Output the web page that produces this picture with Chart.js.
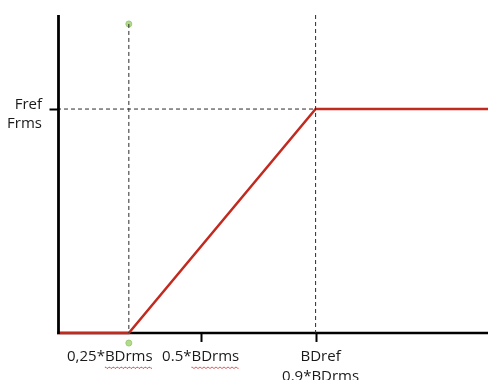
<!DOCTYPE html>
<html>
<head>
<meta charset="utf-8">
<script src="https://cdn.jsdelivr.net/npm/chart.js@4.4.1/dist/chart.umd.min.js"></script>
<style>
  html, body { margin: 0; padding: 0; background: #fff; }
  #wrap { width: 488px; height: 380px; position: relative; }
</style>
</head>
<body>
<div id="wrap"><canvas id="c"></canvas></div>
<script>
// Force characteristic: zero until the lower breakpoint, linear ramp, then flat at Fref.
const responseX = [0, 0.25, 0.9, 1.5];
const responseY = [0, 0, 1, 1];

// Reference guides
const lowGuideX = [0.25, 0.25];
const lowGuideY = [1.38, 0];
const highGuideX = [0.9, 0.9];
const highGuideY = [1.42, 0];
const levelGuideX = [0, 0.9];
const levelGuideY = [1, 1];

// Marker dots on the lower guide
const markerX = [0.25, 0.25];
const markerY = [1.38, -0.045];

// Axis ticks and their labels
const xTickValues = [0.5, 0.9];
const xLabelValues = [0.25, 0.5, 0.9];
const xLabelLines = [["0,25*BDrms"], ["0.5*BDrms"], ["BDref", "0.9*BDrms"]];
const xLabelShift = [-19, 0, 5];
const yTickValues = [1];
const yLabelLines = [["Fref", "Frms"]];

const pts = (xs, ys) => xs.map((x, i) => ({ x: x, y: ys[i] }));

const RED = '#c22a20';
const FONT = '15px "Open Sans"';

const axesPlugin = {
  id: 'schemaAxes',
  beforeDatasetsDraw(chart) {
    const { ctx, chartArea, scales } = chart;
    const xs = scales.x, ys = scales.y;
    const y0 = ys.getPixelForValue(0);
    ctx.save();
    ctx.strokeStyle = '#000';
    ctx.lineWidth = 2.5;
    ctx.beginPath();
    ctx.moveTo(xs.getPixelForValue(0), y0);
    ctx.lineTo(chartArea.right, y0);
    ctx.stroke();
    // x ticks
    ctx.lineWidth = 2;
    xTickValues.forEach(v => {
      const px = Math.round(xs.getPixelForValue(v)) + 0.5;
      ctx.beginPath();
      ctx.moveTo(px, y0);
      ctx.lineTo(px, y0 + 9);
      ctx.stroke();
    });
    ctx.restore();
  },
  afterDatasetsDraw(chart) {
    const { ctx, scales } = chart;
    const xs = scales.x, ys = scales.y;
    const x0 = xs.getPixelForValue(0) + 1.5;
    const y0 = ys.getPixelForValue(0);
    const yTop = ys.getPixelForValue(ys.max);
    ctx.save();
    ctx.strokeStyle = '#000';
    ctx.lineWidth = 2.8;
    ctx.beginPath();
    ctx.moveTo(x0, yTop);
    ctx.lineTo(x0, y0 + 1);
    ctx.stroke();
    // y ticks
    ctx.lineWidth = 2;
    yTickValues.forEach(v => {
      const py = Math.round(ys.getPixelForValue(v)) + 0.5;
      ctx.beginPath();
      ctx.moveTo(x0 - 9, py);
      ctx.lineTo(x0, py);
      ctx.stroke();
    });

    ctx.font = FONT;
    ctx.fillStyle = '#1a1a1a';
    ctx.textBaseline = 'middle';

    // x labels
    ctx.textAlign = 'center';
    xLabelValues.forEach((v, i) => {
      const cx = xs.getPixelForValue(v) + xLabelShift[i];
      xLabelLines[i].forEach((line, j) => {
        const cy = y0 + 24 + j * 20;
        ctx.fillText(line, cx, cy);
        // spell-check style squiggle under "BDrms"
        const k = line.indexOf('BDrms');
        if (k >= 0 && j === 0) {
          const w = ctx.measureText(line).width;
          const pre = ctx.measureText(line.slice(0, k)).width;
          const sw = ctx.measureText('BDrms').width;
          const sx = cx - w / 2 + pre;
          ctx.save();
          ctx.strokeStyle = '#e23a3a';
          ctx.lineWidth = 1;
          ctx.beginPath();
          for (let t = 0; t <= sw; t += 1) {
            const yy = cy + 10.5 + ((Math.floor(t / 2) % 2) ? 0.8 : -0.2);
            if (t === 0) ctx.moveTo(sx + t, yy); else ctx.lineTo(sx + t, yy);
          }
          ctx.stroke();
          ctx.restore();
        }
      });
    });

    // y labels
    ctx.textAlign = 'right';
    yTickValues.forEach((v, i) => {
      const py = ys.getPixelForValue(v);
      yLabelLines[i].forEach((line, j) => {
        ctx.fillText(line, 42, py - 4 + j * 19);
      });
    });
    ctx.restore();
  }
};

const dashed = { borderColor: '#2a2a2a', borderWidth: 1, borderDash: [4, 3], pointRadius: 0, fill: false, clip: false };

new Chart(document.getElementById('c'), {
  type: 'line',
  data: {
    datasets: [
      { ...dashed, data: pts(lowGuideX, lowGuideY) },
      { ...dashed, data: pts(highGuideX, highGuideY) },
      { ...dashed, data: pts(levelGuideX, levelGuideY) },
      { data: pts(responseX, responseY), borderColor: RED, borderWidth: 2.5, pointRadius: 0, fill: false, clip: false },
      { data: pts(markerX, markerY), showLine: false, pointRadius: 3, pointBackgroundColor: '#b2dc8c', pointBorderColor: '#9ccc74', pointBorderWidth: 1, clip: false }
    ]
  },
  options: {
    responsive: true,
    maintainAspectRatio: false,
    animation: false,
    events: [],
    layout: { autoPadding: false, padding: { left: 57, right: 0, top: 15, bottom: 33.6 } },
    plugins: { legend: { display: false }, tooltip: { enabled: false } },
    scales: {
      x: { type: 'linear', min: 0, max: 1.5, display: false },
      y: { type: 'linear', min: -0.06, max: 1.42, display: false }
    }
  },
  plugins: [axesPlugin]
});
</script>
</body>
</html>
